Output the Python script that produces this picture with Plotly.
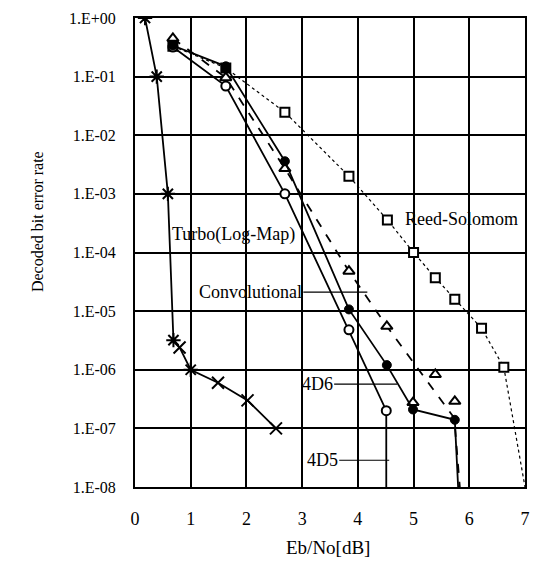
import plotly.graph_objects as go

# ---- data ----
turbo_x = [0.18, 0.39, 0.59, 0.69, 0.80, 1.00, 1.49, 2.02, 2.53]
turbo_y = [1.0, 0.1, 1e-3, 3.2e-6, 2.4e-6, 1e-6, 6e-7, 3e-7, 1e-7]
turbo_sym = ["asterisk-open", "asterisk-open", "asterisk-open", "asterisk-open",
             "x-thin-open", "asterisk-open", "x-thin-open", "x-thin-open", "x-thin-open"]

d5_x = [0.68, 1.63, 2.69, 3.84, 4.51, 4.51]
d5_y = [0.32, 0.069, 1.0e-3, 4.8e-6, 2.0e-7, 1e-8]

d6_x = [0.68, 1.63, 2.69, 3.84, 4.52, 4.99, 5.74, 5.80]
d6_y = [0.34, 0.15, 3.6e-3, 1.07e-5, 1.2e-6, 2.1e-7, 1.4e-7, 1e-8]

conv_x = [0.68, 1.63, 2.69, 3.84, 4.52, 5.73, 5.83]
conv_y = [0.45, 0.096, 2.7e-3, 4.8e-5, 5.5e-6, 1.5e-7, 1e-8]
conv_extra_x = [4.99, 5.39, 5.74]
conv_extra_y = [2.75e-7, 8.3e-7, 2.9e-7]

rs_x = [0.68, 1.63, 2.69, 3.84, 4.53, 5.00, 5.39, 5.74, 6.22, 6.62, 7.00]
rs_y = [0.33, 0.14, 0.0247, 2.0e-3, 3.6e-4, 1.0e-4, 3.7e-5, 1.6e-5, 5.1e-6, 1.1e-6, 1e-8]

x_ticks = [0, 1, 2, 3, 4, 5, 6, 7]
y_tickvals = [1, 1e-1, 1e-2, 1e-3, 1e-4, 1e-5, 1e-6, 1e-7, 1e-8]
y_ticktext = ["1.E+00", "1.E-01", "1.E-02", "1.E-03", "1.E-04",
              "1.E-05", "1.E-06", "1.E-07", "1.E-08"]

FONT = "Liberation Serif"
BLACK = "#000000"

fig = go.Figure()

# Reed-Solomon (dotted, open squares)
rs_sizes = [9] * (len(rs_x) - 1) + [0]
rs_fill = [BLACK, BLACK] + ["white"] * (len(rs_x) - 2)
fig.add_trace(go.Scatter(
    x=rs_x, y=rs_y, mode="lines+markers",
    line=dict(color=BLACK, width=1.2, dash="dot"),
    marker=dict(symbol="square", size=rs_sizes, color=rs_fill, opacity=1,
                line=dict(color=BLACK, width=2)),
    showlegend=False))

# Convolutional (dashed, open triangles)
conv_sizes = [10] * 5 + [0, 0]
fig.add_trace(go.Scatter(
    x=conv_x, y=conv_y, mode="lines+markers",
    line=dict(color=BLACK, width=1.8, dash="dash"),
    marker=dict(symbol="triangle-up", size=conv_sizes, color="white", opacity=1,
                line=dict(color=BLACK, width=2)),
    showlegend=False))
fig.add_trace(go.Scatter(
    x=conv_extra_x, y=conv_extra_y, mode="markers",
    marker=dict(symbol="triangle-up", size=10, color="white", opacity=1,
                line=dict(color=BLACK, width=2)),
    showlegend=False))

# 4D5 (solid, open circles)
d5_sizes = [9] * 5 + [0]
fig.add_trace(go.Scatter(
    x=d5_x, y=d5_y, mode="lines+markers",
    line=dict(color=BLACK, width=1.8),
    marker=dict(symbol="circle", size=d5_sizes, color="white", opacity=1,
                line=dict(color=BLACK, width=2)),
    showlegend=False))

# 4D6 (solid, filled circles)
d6_sizes = [9] * 7 + [0]
fig.add_trace(go.Scatter(
    x=d6_x, y=d6_y, mode="lines+markers",
    line=dict(color=BLACK, width=1.8),
    marker=dict(symbol="circle", size=d6_sizes, color=BLACK, opacity=1,
                line=dict(color=BLACK, width=1)),
    showlegend=False))

# Turbo
fig.add_trace(go.Scatter(
    x=turbo_x, y=turbo_y, mode="lines+markers",
    line=dict(color=BLACK, width=1.8),
    marker=dict(symbol=turbo_sym, size=12, color=BLACK, opacity=1,
                line=dict(color=BLACK, width=2)),
    showlegend=False))

ann_font = dict(family=FONT, size=18, color=BLACK)
annotations = [
    dict(x=1.76, y=-3.696, xref="x", yref="y", text="Turbo(Log-Map)",
         showarrow=False, font=ann_font),
    dict(x=4.17, y=-4.675, xref="x", yref="y", text="Convolutional",
         showarrow=True, arrowhead=0, arrowwidth=1.2, arrowcolor=BLACK,
         ax=-117, ay=0, standoff=0, font=ann_font),
    dict(x=4.81, y=-3.426, xref="x", yref="y", text="Reed-Solomom",
         showarrow=False, xanchor="left", font=ann_font),
    dict(x=4.705, y=-6.245, xref="x", yref="y", text="4D6",
         showarrow=True, arrowhead=0, arrowwidth=1.2, arrowcolor=BLACK,
         ax=-80, ay=0, standoff=0, font=ann_font),
    dict(x=4.563, y=-7.544, xref="x", yref="y", text="4D5",
         showarrow=True, arrowhead=0, arrowwidth=1.2, arrowcolor=BLACK,
         ax=-67, ay=0, standoff=0, font=ann_font),
    dict(x=-0.278, y=0.565, xref="paper", yref="paper",
         text="Decoded bit error rate", textangle=-90, showarrow=False,
         font=dict(family=FONT, size=16, color=BLACK)),
    dict(x=0.496, y=-0.129, xref="paper", yref="paper",
         text="Eb/No[dB]", showarrow=False, yanchor="middle",
         font=dict(family=FONT, size=19, color=BLACK)),
]

fig.update_layout(
    width=540, height=564,
    margin=dict(l=135, r=10, t=13, b=77),
    paper_bgcolor="white", plot_bgcolor="white",
    font=dict(family=FONT, size=17, color=BLACK),
    annotations=annotations,
    xaxis=dict(range=[0, 7], tickvals=x_ticks, showgrid=True,
               gridcolor=BLACK, gridwidth=2, showline=True, linecolor=BLACK,
               linewidth=2, mirror=True, ticks="", zeroline=False,
               ticklabelstandoff=14, tickfont=dict(family=FONT, size=18)),
    yaxis=dict(type="log", range=[-8, 0], tickvals=y_tickvals,
               ticktext=y_ticktext, showgrid=True, gridcolor=BLACK,
               gridwidth=2, showline=True, linecolor=BLACK, linewidth=2,
               mirror=True, ticks="", zeroline=False,
               ticklabelstandoff=14, tickfont=dict(family=FONT, size=16)),
)

fig.write_html("out.html")
